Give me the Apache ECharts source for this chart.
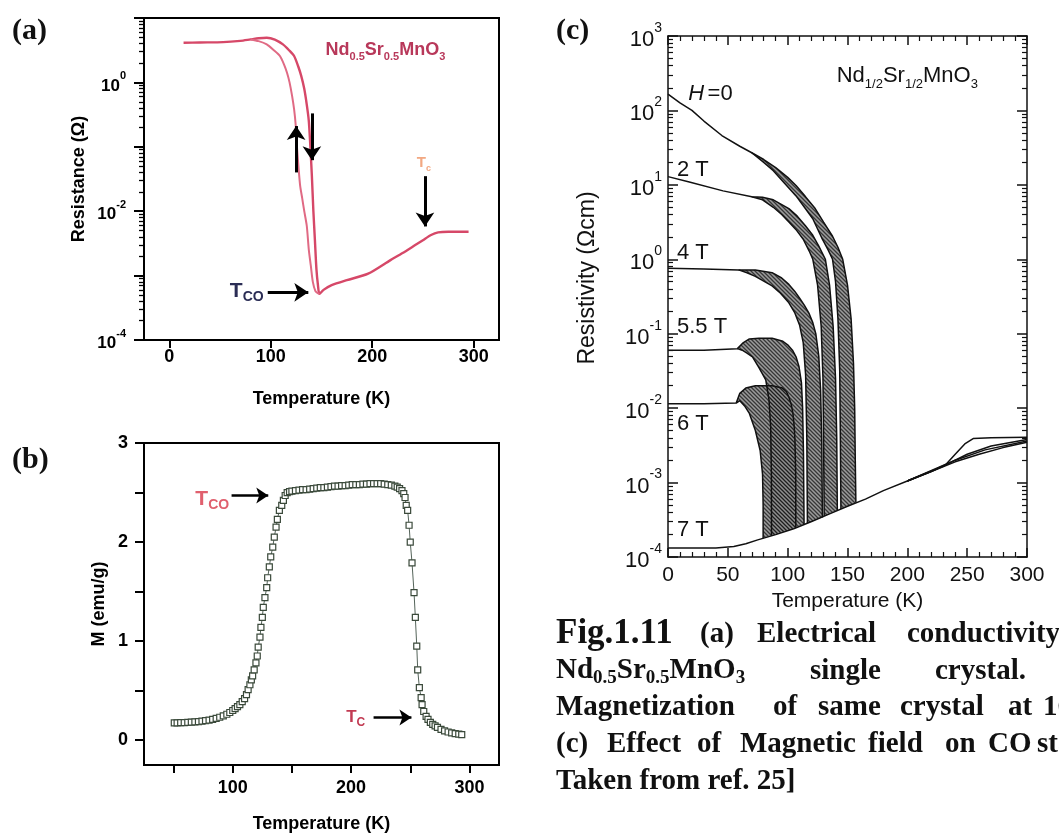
<!DOCTYPE html>
<html><head><meta charset="utf-8">
<script src="https://cdn.jsdelivr.net/npm/echarts@6/dist/echarts.min.js"></script>
<style>html,body{margin:0;padding:0;background:#fff}#chart{width:1059px;height:840px}</style>
</head><body><div id="chart"></div>
<script>
// ---------------- DATA ----------------
// Panel (a): resistance vs temperature, warming branch (incl. high-T part) and cooling branch
const aUpT = [14, 30, 53, 70, 80, 88, 96, 104, 112, 118, 123, 127, 130, 133, 135.5, 137.5, 139, 140.5, 142, 143.5, 145, 146.5, 148, 152, 160, 175, 196, 218, 230, 242, 250, 258, 265, 275, 295];
const aUpR = [4.12, 4.17, 4.22, 4.42, 4.65, 4.84, 4.93, 4.62, 3.89, 3.16, 2.57, 1.78, 1.26, 0.794, 0.447, 0.251, 0.102, 0.0355, 0.01, 0.00355, 0.00126, 7.1e-4, 5.2e-4, 6.0e-4, 7.1e-4, 8.5e-4, 1.07e-3, 1.74e-3, 2.24e-3, 2.95e-3, 3.55e-3, 4.27e-3, 4.68e-3, 4.79e-3, 4.79e-3];
const aDownT = [80, 88, 96, 103, 109, 113, 116, 118.5, 121, 123, 124.5, 125.8, 127.5, 129, 131, 133, 135.5, 137.5, 139.5, 141.5, 144, 146, 148];
const aDownR = [4.65, 4.37, 3.89, 3.16, 2.57, 1.91, 1.41, 1.0, 0.617, 0.38, 0.224, 0.1, 0.0447, 0.0245, 0.0158, 0.01, 0.00589, 0.00251, 0.00141, 7.9e-4, 5.75e-4, 5.37e-4, 5.2e-4];
const aTicks = [0, 100, 200, 300];

// Panel (b): magnetization vs temperature
const bT = [50.6, 53, 56, 59, 62, 65, 68, 71, 74, 77, 80, 83, 86, 89, 92, 95, 97.5, 100, 102, 104, 106, 108, 110, 111.6, 113, 114.5, 115.7, 116.8, 118.1, 119.6, 120.7, 121.5, 123, 123.8, 125, 125.8, 127.2, 128.7, 129.5, 130.9, 132.1, 133.8, 135.1, 136.6, 137.7, 139.4, 141.4, 142.8, 144.3, 146, 148, 150, 153, 156, 159, 162, 165, 168, 171, 174, 177, 180, 183, 186, 189, 192, 195, 198, 201, 204, 207, 210, 213, 216, 219, 222, 225, 228, 231, 234, 237, 239, 241, 243, 244.5, 245.6, 246.6, 247.8, 249, 250, 251.5, 253.2, 254.3, 255.5, 256.3, 257.7, 259.2, 260, 261.4, 263.4, 265, 267, 269, 271, 273, 276, 279, 282, 285, 288, 291, 293.5];
const bM = [0.175, 0.175, 0.177, 0.178, 0.18, 0.182, 0.185, 0.188, 0.192, 0.197, 0.202, 0.21, 0.22, 0.232, 0.245, 0.262, 0.28, 0.30, 0.32, 0.34, 0.36, 0.39, 0.42, 0.46, 0.51, 0.56, 0.61, 0.65, 0.71, 0.78, 0.85, 0.94, 1.04, 1.14, 1.24, 1.34, 1.44, 1.54, 1.64, 1.75, 1.85, 1.95, 2.05, 2.15, 2.23, 2.32, 2.37, 2.42, 2.47, 2.50, 2.51, 2.515, 2.52, 2.525, 2.53, 2.53, 2.535, 2.54, 2.545, 2.55, 2.55, 2.555, 2.56, 2.565, 2.565, 2.57, 2.57, 2.575, 2.58, 2.58, 2.58, 2.585, 2.585, 2.59, 2.59, 2.59, 2.59, 2.585, 2.58, 2.575, 2.565, 2.555, 2.54, 2.52, 2.49, 2.45, 2.37, 2.32, 2.17, 2.0, 1.79, 1.49, 1.24, 0.95, 0.71, 0.53, 0.43, 0.36, 0.29, 0.24, 0.21, 0.18, 0.16, 0.145, 0.13, 0.11, 0.095, 0.083, 0.074, 0.067, 0.061, 0.057];
const bXTicks = [50, 100, 150, 200, 250, 300];
const bXLabels = [100, 200, 300];
const bYTicks = [0, 0.5, 1, 1.5, 2, 2.5, 3];
const bYLabels = [0, 1, 2, 3];

// Panel (c): resistivity vs temperature in fields; 7 T / common low-resistivity baseline
const cBaseT = [0, 20, 40, 55, 65, 75, 90, 105, 120, 135, 150, 165, 180, 200, 220, 240, 260, 280, 300];
const cBaseR = [1.32e-4, 1.32e-4, 1.32e-4, 1.38e-4, 1.51e-4, 1.70e-4, 2.0e-4, 2.4e-4, 3.0e-4, 3.8e-4, 4.8e-4, 6.0e-4, 7.8e-4, 1.05e-3, 1.41e-3, 1.9e-3, 2.4e-3, 2.95e-3, 3.47e-3];
// H = 0
const cH0PlatT = [0, 10, 20, 30, 45, 60, 70];
const cH0PlatR = [166, 126, 100, 72, 46, 33, 27];
const cH0OutT = [70, 80, 90, 100, 107, 115, 123, 130, 137.5, 142, 146, 150, 153, 155, 156, 156.5, 157];
const cH0OutR = [27, 21.9, 17.0, 12.6, 9.8, 6.9, 4.8, 3.16, 2.04, 1.45, 1.0, 0.45, 0.16, 0.04, 0.01, 0.002, 5.4e-4];
const cH0InT = [70, 80, 88, 97, 107, 114, 121, 129, 134, 137.5, 140, 142, 143.5, 144, 144.5];
const cH0InR = [27, 20, 15.5, 10.7, 7.1, 5.0, 3.5, 1.86, 1.32, 1.0, 0.5, 0.16, 0.032, 0.005, 4.4e-4];
// 2 T
const cH2PlatT = [0, 17, 46, 70];
const cH2PlatR = [12.9, 11.0, 8.3, 6.9];
const cH2OutT = [70, 79, 88, 101, 108, 115, 121, 126, 131.5, 135, 138, 140, 141, 141.5];
const cH2OutR = [6.9, 6.8, 6.3, 4.8, 3.8, 2.8, 2.1, 1.5, 1.0, 0.45, 0.126, 0.025, 0.004, 4.2e-4];
const cH2InT = [70, 79, 88, 95, 101, 107, 113, 118, 121, 125, 128, 129.5, 130, 130.5];
const cH2InR = [6.9, 6.3, 5.0, 4.0, 3.16, 2.5, 1.86, 1.29, 1.0, 0.45, 0.126, 0.025, 0.004, 3.55e-4];
// 4 T
const cH4PlatT = [0, 30, 59];
const cH4PlatR = [0.76, 0.74, 0.72];
const cH4OutT = [59, 73, 87, 95, 101, 106, 110, 114, 118, 121, 123.5, 126, 127.5, 128.5, 129];
const cH4OutR = [0.72, 0.716, 0.66, 0.56, 0.46, 0.37, 0.30, 0.24, 0.186, 0.141, 0.1, 0.05, 0.0178, 0.00355, 3.4e-4];
const cH4InT = [59, 66, 73, 80, 87, 94, 101, 106, 110, 113, 115, 116, 116.5];
const cH4InR = [0.72, 0.66, 0.59, 0.51, 0.44, 0.35, 0.26, 0.19, 0.13, 0.076, 0.028, 0.004, 2.85e-4];
// 5.5 T
const cH55PlatT = [0, 30, 58];
const cH55PlatR = [0.060, 0.060, 0.063];
const cH55OutT = [58, 63, 68, 76, 87, 96, 100, 104, 107, 109.5, 111.5, 112.5, 113.2, 113.7];
const cH55OutR = [0.063, 0.076, 0.085, 0.087, 0.087, 0.079, 0.071, 0.060, 0.049, 0.036, 0.022, 0.01, 0.0025, 2.75e-4];
const cH55InT = [58, 62, 66, 70.6, 76, 81.7, 84.4, 85.8, 86.4, 86.5];
const cH55InR = [0.063, 0.060, 0.055, 0.049, 0.035, 0.024, 0.0129, 0.0056, 0.00126, 1.92e-4];
// 6 T
const cH6PlatT = [0, 30, 57];
const cH6PlatR = [0.0115, 0.0115, 0.0117];
const cH6OutT = [57, 60, 65, 73, 87, 95.6, 99, 101, 103, 104.4, 105.5, 106.1, 106.7, 106.8];
const cH6OutR = [0.0117, 0.0158, 0.0186, 0.02, 0.02, 0.0186, 0.0166, 0.0141, 0.0112, 0.0085, 0.0056, 0.0037, 0.00126, 2.45e-4];
const cH6InT = [57, 60, 64, 68, 73, 77, 79, 79.5, 79.5];
const cH6InR = [0.0117, 0.0126, 0.0107, 0.0085, 0.005, 0.0027, 0.0013, 5e-4, 1.78e-4];
// high-temperature fan (ferromagnetic transition region)
const cFanH0T = [200, 220, 232, 240, 248, 255, 270, 300];
const cFanH0R = [1.05e-3, 1.41e-3, 1.74e-3, 2.4e-3, 3.3e-3, 3.9e-3, 4.0e-3, 4.07e-3];
const cFan2T = [200, 230, 250, 270, 300];
const cFan2R = [1.05e-3, 1.66e-3, 2.4e-3, 3.1e-3, 3.8e-3];
const cFan4T = [200, 240, 265, 300];
const cFan4R = [1.05e-3, 2.0e-3, 2.75e-3, 3.63e-3];

// ---------------- CHART ----------------
const SANS = '"Liberation Sans", Arial, sans-serif';
const SERIF = '"Liberation Serif", "Times New Roman", serif';
const pairs = (T, V) => T.map((t, i) => [t, V[i]]);

const hatch = document.createElement('canvas');
hatch.width = 4; hatch.height = 4;
(function () {
  const g = hatch.getContext('2d');
  g.fillStyle = '#8e8e8e'; g.fillRect(0, 0, 4, 4);
  g.strokeStyle = '#1c1c1c'; g.lineWidth = 1.3;
  g.beginPath();
  g.moveTo(-1, -1); g.lineTo(5, 5);
  g.moveTo(3, -1); g.lineTo(5, 1);
  g.moveTo(-1, 3); g.lineTo(1, 5);
  g.stroke();
})();

const loops = [
  { outT: cH0OutT, outR: cH0OutR, inT: cH0InT, inR: cH0InR },
  { outT: cH2OutT, outR: cH2OutR, inT: cH2InT, inR: cH2InR },
  { outT: cH4OutT, outR: cH4OutR, inT: cH4InT, inR: cH4InR },
  { outT: cH55OutT, outR: cH55OutR, inT: cH55InT, inR: cH55InR },
  { outT: cH6OutT, outR: cH6OutR, inT: cH6InT, inR: cH6InR }
];
const plats = [[cH0PlatT, cH0PlatR], [cH2PlatT, cH2PlatR], [cH4PlatT, cH4PlatR], [cH55PlatT, cH55PlatR], [cH6PlatT, cH6PlatR]];

const chart = echarts.init(document.getElementById('chart'), null, { renderer: 'canvas', width: 1059, height: 840 });

const boldAxis = (size) => ({ color: '#000', fontFamily: SANS, fontWeight: 'bold', fontSize: size });
const supRichBold = {
  b: { fontFamily: SANS, fontWeight: 'bold', fontSize: 17, lineHeight: 24, color: '#000', verticalAlign: 'bottom' },
  s: { fontFamily: SANS, fontWeight: 'bold', fontSize: 11, lineHeight: 11, color: '#000', verticalAlign: 'top' }
};
const supRichReg = {
  b: { fontFamily: SANS, fontSize: 22, lineHeight: 30, color: '#111', verticalAlign: 'bottom' },
  s: { fontFamily: SANS, fontSize: 14, lineHeight: 14, color: '#111', verticalAlign: 'top' }
};
const expOf = v => Math.round(Math.log10(v));

const cLineStyle = { color: '#111', width: 1.5 };
const cSeries = [];
plats.forEach((p, i) => {
  const L = loops[i];
  cSeries.push({ type: 'line', xAxisIndex: 2, yAxisIndex: 2, showSymbol: false, silent: true, z: 3,
    lineStyle: cLineStyle, data: pairs(p[0], p[1]).concat(pairs(L.outT, L.outR)) });
  cSeries.push({ type: 'line', xAxisIndex: 2, yAxisIndex: 2, showSymbol: false, silent: true, z: 3,
    lineStyle: cLineStyle, data: pairs(L.inT, L.inR) });
});
cSeries.push({ type: 'line', xAxisIndex: 2, yAxisIndex: 2, showSymbol: false, silent: true, z: 3, lineStyle: cLineStyle, data: pairs(cBaseT, cBaseR) });
cSeries.push({ type: 'line', xAxisIndex: 2, yAxisIndex: 2, showSymbol: false, silent: true, z: 3, lineStyle: cLineStyle, data: pairs(cFanH0T, cFanH0R) });
cSeries.push({ type: 'line', xAxisIndex: 2, yAxisIndex: 2, showSymbol: false, silent: true, z: 3, lineStyle: cLineStyle, data: pairs(cFan2T, cFan2R) });
cSeries.push({ type: 'line', xAxisIndex: 2, yAxisIndex: 2, showSymbol: false, silent: true, z: 3, lineStyle: cLineStyle, data: pairs(cFan4T, cFan4R) });
cSeries.push({
  type: 'custom', xAxisIndex: 2, yAxisIndex: 2, coordinateSystem: 'cartesian2d', silent: true, z: 2,
  data: loops.map(l => [l.outT[0], l.outR[0]]), encode: { x: 0, y: 1 },
  renderItem: (params, api) => {
    const l = loops[params.dataIndex];
    const pts = [];
    l.outT.forEach((t, i) => pts.push(api.coord([t, l.outR[i]])));
    for (let i = l.inT.length - 1; i >= 0; i--) pts.push(api.coord([l.inT[i], l.inR[i]]));
    return { type: 'polygon', shape: { points: pts }, style: { fill: { image: hatch, repeat: 'repeat' }, opacity: 0.88 } };
  }
});

const arrowML = (w, size, data) => ({ silent: true, symbol: ['none', 'arrow'], symbolSize: size, animation: false,
  label: { show: false }, lineStyle: { color: '#000', width: w, type: 'solid', opacity: 1 },
  itemStyle: { color: '#000' }, emphasis: { disabled: true }, data });

const option = {
  backgroundColor: '#fff',
  animation: false,
  grid: [
    { left: 144, top: 18, width: 355, height: 322, show: true, borderColor: '#000', borderWidth: 2, backgroundColor: 'transparent' },
    { left: 144, top: 443, width: 355, height: 322, show: true, borderColor: '#000', borderWidth: 2, backgroundColor: 'transparent' },
    { left: 668, top: 36, width: 359, height: 521 }
  ],
  xAxis: [
    { gridIndex: 0, type: 'value', min: -25, max: 325,
      axisLine: { show: true, onZero: false, lineStyle: { color: '#000', width: 2 } },
      axisTick: { show: true, inside: false, length: 8, customValues: aTicks, lineStyle: { color: '#000', width: 2 } },
      axisLabel: Object.assign({ customValues: aTicks, margin: 8 }, boldAxis(18)),
      splitLine: { show: false },
      name: 'Temperature (K)', nameLocation: 'middle', nameGap: 50, nameTextStyle: boldAxis(18) },
    { gridIndex: 1, type: 'value', min: 25, max: 325,
      axisLine: { show: true, onZero: false, lineStyle: { color: '#000', width: 2 } },
      axisTick: { show: true, inside: false, length: 8, customValues: bXTicks, lineStyle: { color: '#000', width: 2 } },
      axisLabel: Object.assign({ customValues: bXLabels, margin: 14 }, boldAxis(18)),
      splitLine: { show: false },
      name: 'Temperature (K)', nameLocation: 'middle', nameGap: 50, nameTextStyle: boldAxis(18) },
    { gridIndex: 2, type: 'value', min: 0, max: 300, interval: 50, position: 'bottom',
      axisLine: { show: true, onZero: false, lineStyle: { color: '#111', width: 1.5 } },
      axisTick: { show: true, inside: true, length: 9, lineStyle: { color: '#111', width: 1.5 } },
      minorTick: { show: true, splitNumber: 5, length: 5, lineStyle: { color: '#111', width: 1.2 } },
      axisLabel: { color: '#111', fontFamily: SANS, fontSize: 21, margin: 8 },
      splitLine: { show: false }, minorSplitLine: { show: false },
      name: 'Temperature (K)', nameLocation: 'middle', nameGap: 31, nameTextStyle: { color: '#111', fontFamily: SANS, fontSize: 21 } },
    { gridIndex: 2, type: 'value', min: 0, max: 300, interval: 50, position: 'top',
      axisLine: { show: true, onZero: false, lineStyle: { color: '#111', width: 1.5 } },
      axisTick: { show: true, inside: true, length: 9, lineStyle: { color: '#111', width: 1.5 } },
      minorTick: { show: true, splitNumber: 5, length: 5, lineStyle: { color: '#111', width: 1.2 } },
      axisLabel: { show: false }, splitLine: { show: false } }
  ],
  yAxis: [
    { gridIndex: 0, type: 'log', logBase: 10, min: 1e-4, max: 10,
      axisLine: { show: true, onZero: false, lineStyle: { color: '#000', width: 2 } },
      axisTick: { show: true, inside: false, length: 10, lineStyle: { color: '#000', width: 2 } },
      minorTick: { show: true, splitNumber: 9, length: 5, lineStyle: { color: '#000', width: 1.3 } },
      axisLabel: { margin: 18, formatter: v => { const e = expOf(v); return e % 2 === 0 ? '{b|10}{s|' + e + '}' : ''; }, rich: supRichBold },
      splitLine: { show: false }, minorSplitLine: { show: false },
      name: 'Resistance (Ω)', nameLocation: 'middle', nameGap: 56, nameTextStyle: boldAxis(18) },
    { gridIndex: 1, type: 'value', min: -0.25, max: 3,
      axisLine: { show: true, onZero: false, lineStyle: { color: '#000', width: 2 } },
      axisTick: { show: true, inside: false, length: 9, customValues: bYTicks, lineStyle: { color: '#000', width: 2 } },
      axisLabel: Object.assign({ customValues: bYLabels, margin: 16 }, boldAxis(18)),
      splitLine: { show: false },
      name: 'M (emu/g)', nameLocation: 'middle', nameGap: 36, nameTextStyle: boldAxis(18) },
    { gridIndex: 2, type: 'log', logBase: 10, min: 1e-4, max: 1000, position: 'left',
      axisLine: { show: true, onZero: false, lineStyle: { color: '#111', width: 1.5 } },
      axisTick: { show: true, inside: true, length: 10, lineStyle: { color: '#111', width: 1.5 } },
      minorTick: { show: true, splitNumber: 9, length: 5, lineStyle: { color: '#111', width: 1.2 } },
      axisLabel: { margin: 6, formatter: v => '{b|10}{s|' + expOf(v) + '}', rich: supRichReg },
      splitLine: { show: false }, minorSplitLine: { show: false } },
    { gridIndex: 2, type: 'log', logBase: 10, min: 1e-4, max: 1000, position: 'right',
      axisLine: { show: true, onZero: false, lineStyle: { color: '#111', width: 1.5 } },
      axisTick: { show: true, inside: true, length: 10, lineStyle: { color: '#111', width: 1.5 } },
      minorTick: { show: true, splitNumber: 9, length: 5, lineStyle: { color: '#111', width: 1.2 } },
      axisLabel: { show: false }, splitLine: { show: false } }
  ],
  series: [
    { type: 'line', xAxisIndex: 0, yAxisIndex: 0, showSymbol: false, silent: true, smooth: 0.25,
      lineStyle: { color: '#d64868', width: 2.4 }, data: pairs(aUpT, aUpR),
      markLine: arrowML(3, 14, [
        [{ coord: [125, 0.04] }, { coord: [125, 0.21] }],
        [{ coord: [140.5, 0.33] }, { coord: [140.5, 0.062] }],
        [{ coord: [252, 0.035] }, { coord: [252, 0.0058] }],
        [{ coord: [97, 5.5e-4] }, { coord: [137, 5.5e-4] }]
      ]) },
    { type: 'line', xAxisIndex: 0, yAxisIndex: 0, showSymbol: false, silent: true, smooth: 0.25,
      lineStyle: { color: '#e06a84', width: 2 }, data: pairs(aDownT, aDownR) },
    { type: 'line', xAxisIndex: 1, yAxisIndex: 1, silent: true, showSymbol: true, symbol: 'rect', symbolSize: 6,
      itemStyle: { color: '#fff', borderColor: '#3a493a', borderWidth: 1.2 },
      lineStyle: { color: '#55645a', width: 1 }, data: pairs(bT, bM),
      markLine: arrowML(2.5, 12, [
        [{ coord: [99, 2.47] }, { coord: [130, 2.47] }],
        [{ coord: [219, 0.23] }, { coord: [251, 0.23] }]
      ]) }
  ].concat(cSeries)
};
chart.setOption(option);

// ---------------- ANNOTATIONS (anchored in data coordinates) ----------------
const P = (g, x, y) => chart.convertToPixel({ gridIndex: g }, [x, y]);
const G = [];
function txt(pos, text, rich, align, extra) {
  G.push(Object.assign({ type: 'text', x: pos[0], y: pos[1], silent: true,
    style: { text, rich, align: align || 'left', verticalAlign: 'middle' } }, extra || {}));
}
const rs = (size, color, weight, family, lh, va) => ({ fontSize: size, fill: color, fontWeight: weight || 'normal', fontFamily: family || SANS, lineHeight: lh, verticalAlign: va });
// (a)
txt(P(0, 154, 3.0), '{m|Nd}{s|0.5}{m|Sr}{s|0.5}{m|MnO}{s|3}',
  { m: rs(18, '#b8385a', 'bold', SANS, 22, 'top'), s: rs(11, '#b8385a', 'bold', SANS, 11, 'bottom') });
txt(P(0, 251, 0.054), '{m|T}{s|c}', { m: rs(15, '#f2a882', 'bold', SANS, 18, 'top'), s: rs(9, '#f2a882', 'bold', SANS, 9, 'bottom') }, 'center');
txt(P(0, 93, 5.5e-4), '{m|T}{s|CO}', { m: rs(21, '#2b2d55', 'bold', SANS, 24, 'top'), s: rs(14, '#2b2d55', 'bold', SANS, 12, 'bottom') }, 'right');
// (b)
txt(P(1, 97, 2.42), '{m|T}{s|CO}', { m: rs(21, '#e0606e', 'bold', SANS, 24, 'top'), s: rs(14, '#e0606e', 'bold', SANS, 12, 'bottom') }, 'right');
txt(P(1, 212, 0.22), '{m|T}{s|C}', { m: rs(17, '#c23a52', 'bold', SANS, 20, 'top'), s: rs(12, '#c23a52', 'bold', SANS, 10, 'bottom') }, 'right');
// (c)
txt(P(2, 141, 275), '{m|Nd}{s|1/2}{m|Sr}{s|1/2}{m|MnO}{s|3}',
  { m: rs(22, '#111', 'normal', SANS, 26, 'top'), s: rs(13, '#111', 'normal', SANS, 12, 'bottom') });
txt(P(2, 17, 166), '{i|H} {m|=0}', { i: Object.assign(rs(22, '#111'), { fontStyle: 'italic' }), m: rs(22, '#111') });
const fieldLabels = [['2 T', 15.8], ['4 T', 1.21], ['5.5 T', 0.123], ['6 T', 0.0061], ['7 T', 2.3e-4]];
fieldLabels.forEach(f => txt(P(2, 7.5, f[1]), '{m|' + f[0] + '}', { m: rs(22, '#111') }));
// (c) y-axis title
G.push({ type: 'text', x: 588, y: 278, rotation: Math.PI / 2, silent: true,
  style: { text: 'Resistivity (Ωcm)', fontSize: 23, fontFamily: SANS, fill: '#111', align: 'center', verticalAlign: 'middle' } });

// panel letters and caption (page layout)
const serifBold = (size) => ({ fontSize: size, fontWeight: 'bold', fontFamily: SERIF, fill: '#111' });
const lay = (x, y, text, size, rich) => G.push({ type: 'text', x, y, silent: true,
  style: Object.assign({ text, rich, align: 'left', verticalAlign: 'middle' }, serifBold(size)) });
lay(12, 31, '(a)', 30);
lay(12, 460, '(b)', 30);
lay(556, 31, '(c)', 30);
lay(556, 634, 'Fig.1.11', 35);
lay(700, 635, '(a)', 29);
lay(757, 635, 'Electrical', 29);
lay(907, 635, 'conductivity', 29);
lay(556, 672, '{m|Nd}{s|0.5}{m|Sr}{s|0.5}{m|MnO}{s|3}', 29,
  { m: Object.assign(serifBold(29), { lineHeight: 32, verticalAlign: 'top' }), s: Object.assign(serifBold(19), { lineHeight: 17, verticalAlign: 'bottom' }) });
lay(810, 672, 'single', 29);
lay(935, 672, 'crystal.', 29);
lay(556, 708, 'Magnetization', 29);
lay(773, 708, 'of', 29);
lay(818, 708, 'same', 29);
lay(900, 708, 'crystal', 29);
lay(1008, 708, 'at', 29);
lay(1043, 708, '100', 29);
lay(556, 745, '(c)', 29);
lay(607, 745, 'Effect', 29);
lay(697, 745, 'of', 29);
lay(740, 745, 'Magnetic', 29);
lay(868, 745, 'field', 29);
lay(945, 745, 'on', 29);
lay(988, 745, 'CO', 29);
lay(1037, 745, 'state', 29);
lay(556, 782, 'Taken from ref. 25]', 29);

chart.setOption({ graphic: { elements: G } });
</script></body></html>
